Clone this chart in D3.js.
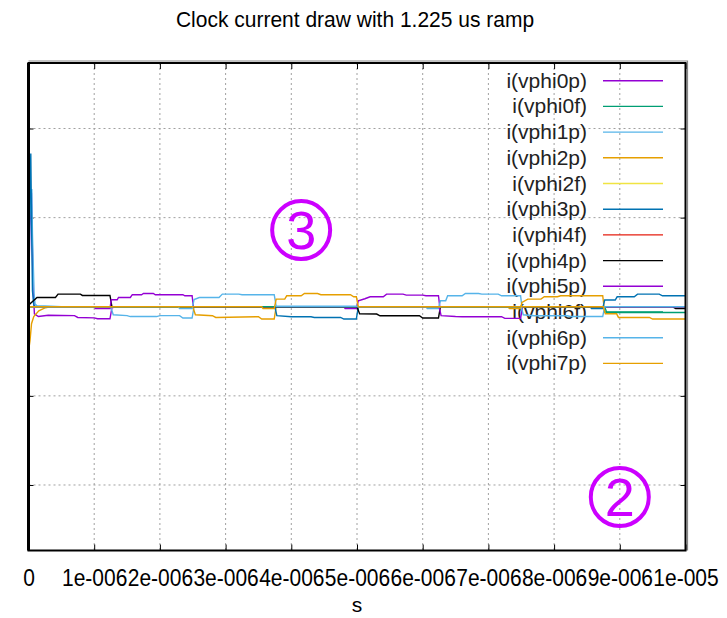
<!DOCTYPE html>
<html>
<head>
<meta charset="utf-8">
<script src="https://cdn.jsdelivr.net/npm/d3@7"></script>
<style>
  body { margin: 0; background: #fff; }
  svg text { font-family: "Liberation Sans", Arial, sans-serif; }
</style>
</head>
<body>
<svg class="chart"></svg>
<script>
const width = 727
const height = 618

// time in us, current in (unlabelled) y units
const xTicks = [0, 1, 2, 3, 4, 5, 6, 7, 8, 9, 10]
const xTickLabels = ["0", "1e-006", "2e-006", "3e-006", "4e-006", "5e-006", "6e-006", "7e-006", "8e-006", "9e-006", "1e-005"]
const yTicks = [-2, -1, 0, 1, 2]

const names = ["i(vphi0p)", "i(vphi0f)", "i(vphi1p)", "i(vphi2p)", "i(vphi2f)", "i(vphi3p)",
    "i(vphi4f)", "i(vphi4p)", "i(vphi5p)", "i(vphi6f)", "i(vphi6p)", "i(vphi7p)"]
const colors = ["#9400d3", "#009e73", "#56b4e9", "#e69f00", "#f0e442", "#0072b2",
    "#e51e10", "#000000", "#9400d3", "#009e73", "#56b4e9", "#e69f00"]

const vphi0p = [[0, 0], [0.02, 0.9], [0.045, 1.28], [0.06, 0.6], [0.07, 0.21], [0.09, -0.08], [0.15, -0.11],
    [0.3, -0.095], [0.7, -0.1], [0.75, -0.12], [1.0, -0.125], [1.05, -0.135], [1.24, -0.135], [1.27, -0.01],
    [1.4, 0], [4.8, 0], [4.82, -0.02], [4.99, -0.02], [5.02, 0.067], [5.12, 0.09], [5.2, 0.112], [5.4, 0.112],
    [5.45, 0.142], [5.7, 0.142], [5.75, 0.131], [6.0, 0.131], [6.05, 0.123], [6.24, 0.123], [6.26, 0], [10, 0]]
const vphi0f = [[0, 0], [5, 0], [10, 0]]
const vphi1p = [[0, 0], [0.02, 1.0], [0.05, 1.32], [0.06, 0.82], [0.085, 0.15], [0.1, 0.03], [0.13, 0.01],
    [0.25, 0.01], [0.5, 0], [1.25, 0], [1.29, -0.09], [1.5, -0.1], [1.55, -0.11], [1.95, -0.11], [2.0, -0.1],
    [2.3, -0.1], [2.35, -0.127], [2.49, -0.127], [2.52, 0], [6.05, 0], [6.07, -0.02], [6.24, -0.02],
    [6.27, 0.067], [6.35, 0.067], [6.38, 0.123], [6.6, 0.123], [6.65, 0.149], [6.85, 0.149], [6.9, 0.142],
    [7.15, 0.142], [7.2, 0.123], [7.49, 0.123], [7.51, 0], [10, 0]]
const vphi2p = [[0, -0.5], [0.023, -0.38], [0.046, -0.19], [0.08, -0.11], [0.157, -0.045], [0.258, -0.011],
    [0.33, 0], [2.5, 0], [2.54, -0.09], [2.8, -0.101], [2.85, -0.12], [3.5, -0.112], [3.55, -0.138],
    [3.74, -0.138], [3.77, 0], [7.3, 0], [7.32, -0.02], [7.49, -0.02], [7.51, 0.048], [7.6, 0.086],
    [7.8, 0.086], [7.85, 0.112], [8.05, 0.112], [8.1, 0.123], [8.74, 0.123], [8.76, 0], [10, 0]]
const vphi2f = [[0, 0], [5, 0], [10, 0]]
const vphi3p = [[0, 0], [0.02, 1.2], [0.035, 1.72], [0.046, 0.96], [0.06, 0.18], [0.08, 0.02], [0.11, 0],
    [3.75, 0], [3.78, -0.1], [4.0, -0.112], [4.3, -0.112], [4.35, -0.12], [4.75, -0.12], [4.8, -0.138],
    [4.99, -0.138], [5.02, 0], [8.55, 0], [8.57, -0.02], [8.74, -0.02], [8.77, 0.075], [8.93, 0.075],
    [8.96, 0.112], [9.22, 0.112], [9.27, 0.142], [9.6, 0.142], [9.65, 0.123], [10, 0.123]]
const vphi4f = [[0, 0], [5, 0], [10, 0]]
const vphi4p = [[0, 0.01], [0.02, 0.03], [0.13, 0.104], [0.41, 0.104], [0.45, 0.142], [0.79, 0.142],
    [0.82, 0.127], [1.24, 0.127], [1.27, 0], [5.0, 0], [5.04, -0.08], [5.3, -0.082], [5.35, -0.101],
    [5.95, -0.101], [6.0, -0.127], [6.24, -0.127], [6.27, 0], [9.8, 0], [9.85, -0.02], [10, -0.02]]
const vphi5p = [[0, 0], [1.0, 0], [1.02, -0.02], [1.24, -0.02], [1.26, 0.078], [1.35, 0.078], [1.37, 0.104],
    [1.55, 0.104], [1.58, 0.135], [1.72, 0.135], [1.75, 0.149], [1.9, 0.149], [1.93, 0.135], [2.35, 0.135],
    [2.38, 0.123], [2.49, 0.123], [2.51, 0], [6.25, 0], [6.28, -0.1], [6.5, -0.11], [6.6, -0.112],
    [7.2, -0.112], [7.25, -0.13], [7.49, -0.13], [7.52, 0], [10, 0]]
const vphi6f = [[0, 0], [8.77, 0], [8.8, -0.065], [10, -0.065]]
const vphi6p = [[0, 0], [2.28, 0], [2.3, -0.02], [2.49, -0.02], [2.52, 0.08], [2.6, 0.104], [2.9, 0.104],
    [2.95, 0.142], [3.2, 0.142], [3.25, 0.135], [3.74, 0.135], [3.77, 0.005], [5.0, 0.005], [5.03, 0],
    [7.5, 0], [7.53, -0.09], [7.7, -0.101], [8.2, -0.101], [8.25, -0.11], [8.74, -0.11], [8.77, 0], [10, 0]]
const vphi7p = [[0, 0], [3.55, 0], [3.57, -0.02], [3.74, -0.02], [3.77, 0.086], [3.9, 0.086], [3.93, 0.123],
    [4.15, 0.123], [4.2, 0.149], [4.4, 0.149], [4.45, 0.135], [4.9, 0.135], [4.95, 0.112], [4.99, 0.112],
    [5.02, 0], [8.75, 0], [8.78, -0.078], [8.95, -0.078], [8.98, -0.12], [9.45, -0.12], [9.5, -0.138],
    [10, -0.138]]

const series = [vphi0p, vphi0f, vphi1p, vphi2p, vphi2f, vphi3p, vphi4f, vphi4p, vphi5p, vphi6f, vphi6p, vphi7p]

const plotL = 28.5, plotR = 685.5, plotT = 63, plotB = 550.5

const svg = d3.select("svg.chart")
    .attr("width", width)
    .attr("height", height)

const x = d3.scaleLinear().domain([0, 10]).range([plotL, plotR])
const y = d3.scaleLinear().domain([-2.735, 2.735]).range([plotB, plotT])

// grid
svg.append("g")
    .attr("stroke", "#a0a0a0")
    .attr("stroke-dasharray", "2,3")
    .call(g => g.selectAll("line.gx")
        .data(xTicks.slice(1, -1))
        .join("line")
        .attr("class", "gx")
        .attr("x1", d => x(d)).attr("x2", d => x(d))
        .attr("y1", plotT).attr("y2", plotB))
    .call(g => g.selectAll("line.gy")
        .data(yTicks)
        .join("line")
        .attr("class", "gy")
        .attr("x1", plotL).attr("x2", plotR)
        .attr("y1", d => y(d)).attr("y2", d => y(d)))

// ticks, gnuplot style: on all four sides, pointing in
const xAxis = d3.axisBottom(x).tickValues(xTicks).tickSizeInner(-6).tickSizeOuter(0)
    .tickFormat((d, i) => xTickLabels[i])
svg.append("g")
    .attr("transform", `translate(0,${plotB})`)
    .call(xAxis)
    .call(g => g.select(".domain").remove())
    .call(g => g.selectAll("text")
        .attr("y", 0)
        .attr("dy", 0)
        .attr("transform", "translate(0,35.5) scale(1,1.13)")
        .attr("font-size", 21)
        .attr("font-family", "Liberation Sans, Arial, sans-serif")
        .attr("fill", "#000"))
svg.append("g")
    .attr("transform", `translate(0,${plotT})`)
    .call(d3.axisTop(x).tickValues(xTicks).tickSizeInner(-6).tickSizeOuter(0).tickFormat(""))
    .call(g => g.select(".domain").remove())
svg.append("g")
    .attr("transform", `translate(${plotL},0)`)
    .call(d3.axisLeft(y).tickValues(yTicks).tickSizeInner(-5).tickSizeOuter(0).tickFormat(""))
    .call(g => g.select(".domain").remove())
svg.append("g")
    .attr("transform", `translate(${plotR},0)`)
    .call(d3.axisRight(y).tickValues(yTicks).tickSizeInner(-5).tickSizeOuter(0).tickFormat(""))
    .call(g => g.select(".domain").remove())

// legend (under the traces, like the original)
const key = svg.append("g")
const rows = key.selectAll("g")
    .data(names)
    .join("g")
    .attr("transform", (d, i) => `translate(0,${80.7 + i * 25.7})`)
rows.append("text")
    .attr("x", 587)
    .attr("y", 7)
    .attr("text-anchor", "end")
    .attr("font-size", 21)
    .attr("fill", "#222")
    .text(d => d)
rows.append("line")
    .attr("x1", 603).attr("x2", 663)
    .attr("stroke", (d, i) => colors[i])
    .attr("stroke-width", 1.4)

// traces
const line = d3.line()
    .x(d => x(d[0]))
    .y(d => y(d[1]))

svg.append("g")
    .attr("fill", "none")
    .attr("stroke-width", 1.4)
    .selectAll("path")
    .data(series)
    .join("path")
    .attr("stroke", (d, i) => colors[i])
    .attr("d", line)

// frame
svg.append("path")
    .attr("fill", "none")
    .attr("stroke", "#888")
    .attr("stroke-width", 1.2)
    .attr("d", `M${plotL},${plotT - 2}H${plotR + 2}V${plotB}`)
svg.append("rect")
    .attr("x", plotL).attr("y", plotT)
    .attr("width", plotR - plotL).attr("height", plotB - plotT)
    .attr("fill", "none")
    .attr("stroke", "#000")
    .attr("stroke-width", 2)
svg.append("line")
    .attr("x1", plotL).attr("x2", plotL)
    .attr("y1", plotT).attr("y2", plotB)
    .attr("stroke", "#000")
    .attr("stroke-width", 3)

svg.append("text")
    .attr("transform", "translate(355,27) scale(1,1.08)")
    .attr("text-anchor", "middle")
    .attr("font-size", 21)
    .text("Clock current draw with 1.225 us ramp")

svg.append("text")
    .attr("x", 357)
    .attr("y", 612)
    .attr("text-anchor", "middle")
    .attr("font-size", 21)
    .text("s")

// circled markers
const marks = [{ label: "3", t: 4.15, v: 0.86 }, { label: "2", t: 9.0, v: -2.135 }]
const mk = svg.append("g")
    .selectAll("g")
    .data(marks)
    .join("g")
    .attr("transform", d => `translate(${x(d.t)},${y(d.v)})`)
mk.append("circle")
    .attr("r", 29)
    .attr("fill", "none")
    .attr("stroke", "#cc00ff")
    .attr("stroke-width", 4)
mk.append("text")
    .attr("y", 19)
    .attr("text-anchor", "middle")
    .attr("font-family", "Noto Sans, DejaVu Sans, sans-serif")
    .attr("font-size", 54)
    .attr("fill", "#cc00ff")
    .text(d => d.label)
</script>
</body>
</html>
